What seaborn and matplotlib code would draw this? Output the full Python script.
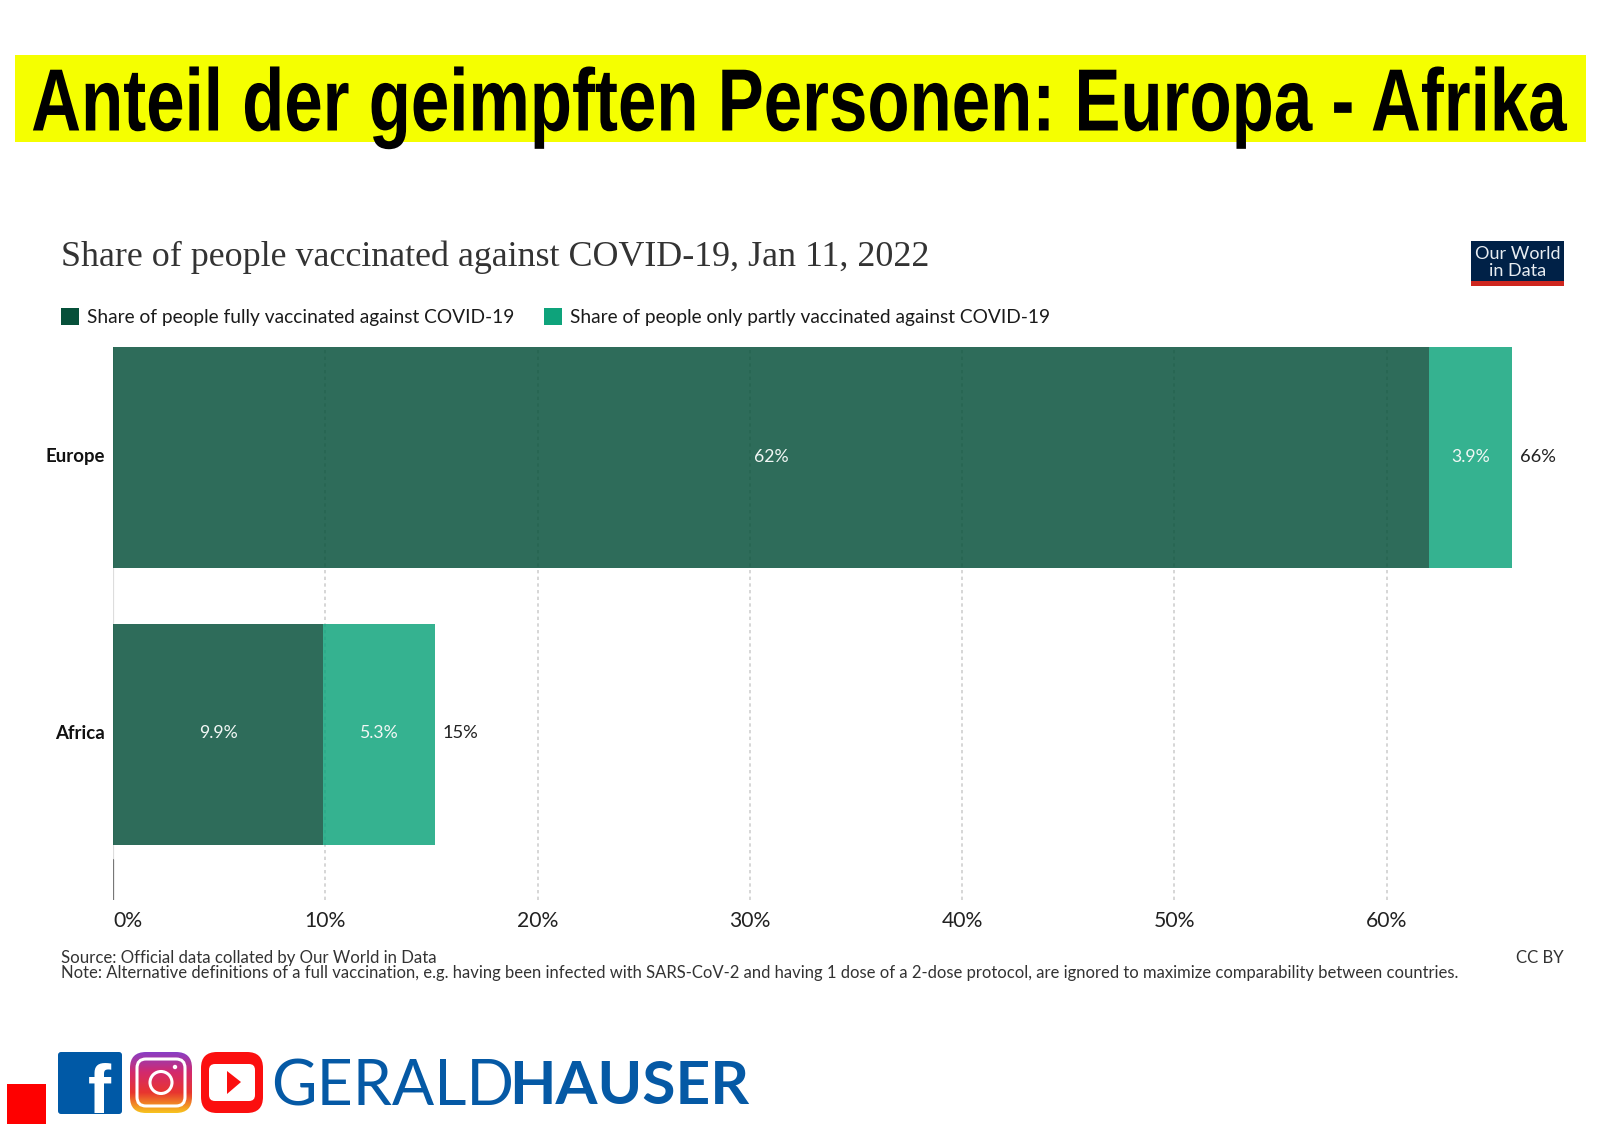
import numpy as np
import pandas as pd
import matplotlib
matplotlib.use("Agg")
import matplotlib.pyplot as plt
from matplotlib.patches import Rectangle, FancyBboxPatch, Polygon, Circle
from matplotlib.patheffects import AbstractPathEffect
from matplotlib.ticker import FixedLocator, FixedFormatter
from matplotlib.transforms import Affine2D
import seaborn as sns

regions = ["Europe", "Africa"]
fully = [62.0, 9.9]
partly = [3.9, 5.25]
fully_labels = ["62%", "9.9%"]
partly_labels = ["3.9%", "5.3%"]
total_labels = ["66%", "15%"]
ticks = [0, 10, 20, 30, 40, 50, 60]
tick_labels = ["0%", "10%", "20%", "30%", "40%", "50%", "60%"]
banner = "Anteil der geimpften Personen: Europa - Afrika"
title = "Share of people vaccinated against COVID-19, Jan 11, 2022"
legend_names = ["Share of people fully vaccinated against COVID-19",
                "Share of people only partly vaccinated against COVID-19"]
source = "Source: Official data collated by Our World in Data"
note = ("Note: Alternative definitions of a full vaccination, e.g. having been infected with SARS-CoV-2 "
        "and having 1 dose of a 2-dose protocol, are ignored to maximize comparability between countries.")

W, H = 1600, 1131
sns.set_theme(style="white")
plt.rcParams["font.family"] = ["Lato", "DejaVu Sans"]

fig = plt.figure(figsize=(W / 100, H / 100), dpi=100, facecolor="white")

bg = fig.add_axes([0, 0, 1, 1], zorder=0)
bg.set_xlim(0, W); bg.set_ylim(H, 0); bg.axis("off")

L, R, T, B = 113, 1514, 347, 900
ax = fig.add_axes([L / W, 1 - B / H, (R - L) / W, (B - T) / H], zorder=1)
ax.patch.set_alpha(0)
df = pd.DataFrame({"region": regions, "fully": fully, "partly": partly})
DARK, LIGHT = "#06503a", "#0ea37b"
sns.barplot(data=df, y="region", x="fully", color=DARK, width=0.8, saturation=1, alpha=0.84,
            linewidth=0, ax=ax, zorder=3, label=legend_names[0])
sns.barplot(data=df, y="region", x="partly", left=df["fully"], color=LIGHT, width=0.8, saturation=1,
            alpha=0.84, linewidth=0, ax=ax, zorder=3, label=legend_names[1])
ax.set_xlim(0, 66.0)
ax.set_ylim(1.6, -0.4)
ax.set_xlabel(""); ax.set_ylabel("")
for s in ax.spines.values():
    s.set_visible(False)
ax.xaxis.set_major_locator(FixedLocator(ticks))
ax.xaxis.set_major_formatter(FixedFormatter(tick_labels))
ax.tick_params(axis="x", length=0, pad=8, labelsize=15.2, labelcolor="#222222")
ax.tick_params(axis="y", length=0, pad=6)
ax.get_xticklabels()[0].set_ha("left")
for t in ax.get_yticklabels():
    t.set_fontsize(13.4); t.set_fontweight("bold"); t.set_color("#111111")
    t.set_verticalalignment("center")
    t.set_transform(t.get_transform() + Affine2D().translate(0, 1))
ax.grid(axis="x", color="#cfcfcf", linestyle=(0, (2, 2)), linewidth=1.2, zorder=1)
ax.axvline(0, color="#dddddd", linewidth=1.6, zorder=2)
ax.axvline(0, ymin=0, ymax=40 / (B - T), color="#777777", linewidth=1.6, zorder=2)

for i in range(2):
    ax.annotate(fully_labels[i], (fully[i] / 2, i), xytext=(0, 1), textcoords="offset pixels",
                ha="center", va="center", color="#f2f7f5", fontsize=12.7)
    ax.annotate(partly_labels[i], (fully[i] + partly[i] / 2, i), xytext=(0, 1), textcoords="offset pixels",
                ha="center", va="center", color="#f2f7f5", fontsize=12.7)
    ax.annotate(total_labels[i], (fully[i] + partly[i], i), xytext=(8, 1), textcoords="offset pixels",
                ha="left", va="center", color="#222222", fontsize=13.2, annotation_clip=False)

leg = ax.legend(loc="lower left", bbox_to_anchor=(61 / W, 1 - 326 / H), bbox_transform=fig.transFigure,
                ncol=2, frameon=False, fontsize=13.82, handlelength=0.95, handleheight=0.95,
                handletextpad=0.4, columnspacing=1.55, borderpad=0, borderaxespad=0, labelcolor="#1a1a1a")
for h in leg.get_patches():
    h.set_alpha(1)


class Stretch(AbstractPathEffect):
    """Stretch a text vertically about its baseline, as in the reference banner."""
    def __init__(self, sy, baseline):
        super().__init__()
        self.sy, self.baseline = sy, baseline

    def draw_path(self, renderer, gc, tpath, affine, rgbFace=None):
        stretch = Affine2D().translate(0, -self.baseline).scale(1, self.sy).translate(0, self.baseline)
        renderer.draw_path(gc, tpath, affine + stretch, rgbFace)


bg.add_patch(Rectangle((14.5, 55), 1571, 87, color="#f5ff00", lw=0))
BASE = 130.5
bg.text(798.5, BASE, banner, ha="center", va="baseline",
        family=["Liberation Sans", "DejaVu Sans"],
        fontweight="bold", fontsize=49.7, color="black",
        path_effects=[Stretch(1.28, H - BASE)])

bg.text(61, 257, title, ha="left", va="center", family=["Liberation Serif", "DejaVu Serif"],
        fontsize=25.9, color="#333333")
bg.text(61, 958, source, ha="left", va="center", fontsize=12.03, color="#333333")
bg.text(61, 973, note, ha="left", va="center", fontsize=11.98, color="#333333")
bg.text(1564, 958, "CC BY", ha="right", va="center", fontsize=12.03, color="#333333")

bg.add_patch(Rectangle((1471, 241), 93, 45, color="#002147", lw=0))
bg.add_patch(Rectangle((1471, 281), 93, 5, color="#ce261e", lw=0))
bg.text(1517.5, 254, "Our World", ha="center", va="center", color="#e8edf2", fontsize=13)
bg.text(1517.5, 271, "in Data", ha="center", va="center", color="#e8edf2", fontsize=13)

bg.add_patch(Rectangle((6.5, 1084), 39, 39.5, color="#fe0000", lw=0))
bg.add_patch(FancyBboxPatch((60, 1054), 60, 58, boxstyle="round,pad=2,rounding_size=3", color="#0059a6", lw=0))
bg.text(111, 1113, "f", ha="right", va="baseline", color="white", fontsize=50, fontweight="bold",
        family=["Liberation Sans", "DejaVu Sans"])

grad = np.linspace(0, 1, 64)[:, None]
cmap = matplotlib.colors.LinearSegmentedColormap.from_list("ig", ["#8a3ec4", "#d42a6c", "#e8352f", "#f7c21f"])
ig_box = FancyBboxPatch((134, 1056), 54, 53, boxstyle="round,pad=4,rounding_size=16", color="none", lw=0)
bg.add_patch(ig_box)
im = bg.imshow(grad, extent=(130, 192, 1113, 1052), cmap=cmap, aspect="auto", zorder=1)
im.set_clip_path(ig_box)
bg.set_xlim(0, W); bg.set_ylim(H, 0)
bg.add_patch(FancyBboxPatch((137, 1059), 48, 47, boxstyle="round,pad=0,rounding_size=9", fc="none", ec="white", lw=2.2, zorder=2))
bg.add_patch(Circle((161, 1082.5), 11, fc="none", ec="white", lw=2.2, zorder=2))
bg.add_patch(Circle((175, 1067), 2.2, fc="white", lw=0, zorder=2))

bg.add_patch(FancyBboxPatch((205, 1056), 54, 53, boxstyle="round,pad=4,rounding_size=16", color="#fb0f0f", lw=0))
bg.add_patch(FancyBboxPatch((209, 1064), 46, 37, boxstyle="round,pad=0,rounding_size=6", color="white", lw=0))
bg.add_patch(Polygon([[227, 1071], [241, 1082], [227, 1094]], color="#fb0f0f", lw=0))

bg.text(271.5, 1087, "GERALD", ha="left", va="center", color="#0559a5", fontsize=45)
bg.text(509, 1087, "HAUSER", ha="left", va="center", color="#0559a5", fontsize=43.5, fontweight="bold")

fig.savefig("out.png", dpi=100, facecolor="white")
